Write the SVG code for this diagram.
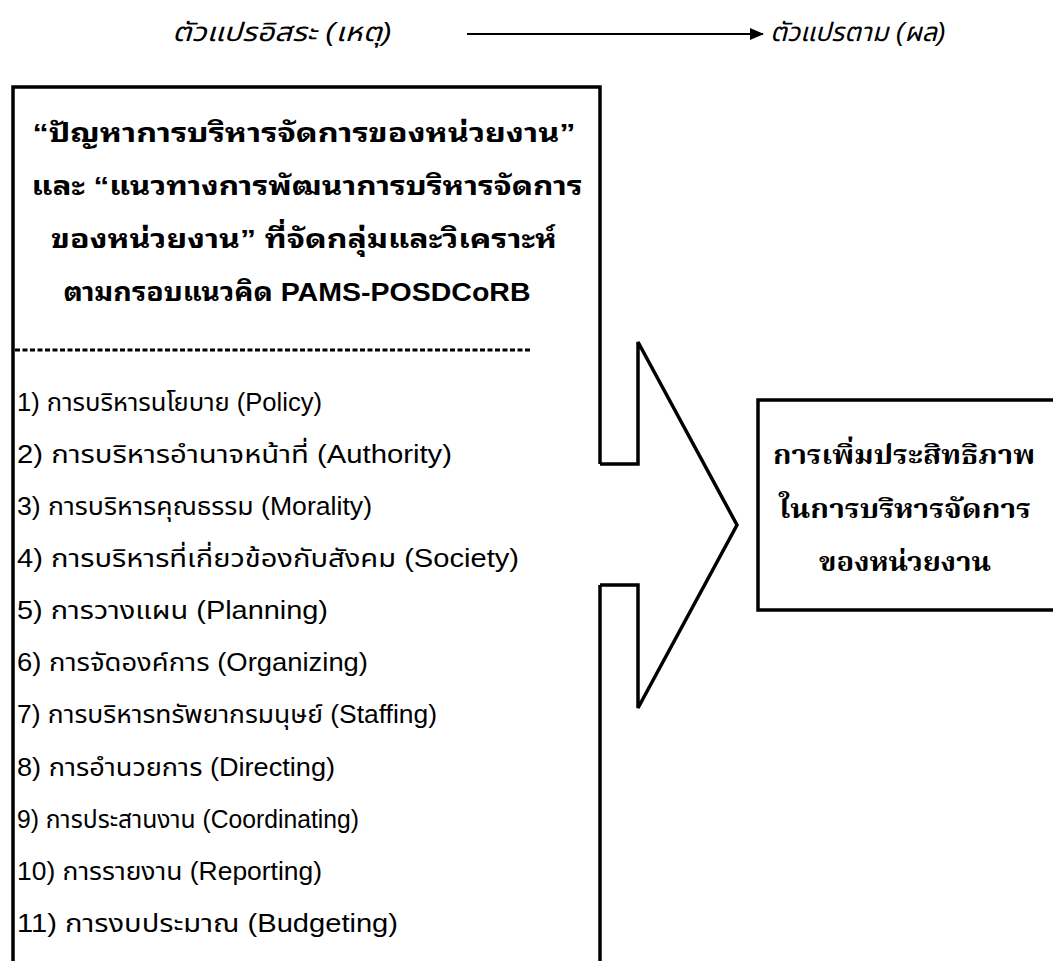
<svg xmlns="http://www.w3.org/2000/svg" width="1053" height="961" viewBox="0 0 1053 961">
<defs>
<marker id="ah" markerWidth="14" markerHeight="12" refX="13" refY="6" orient="auto" markerUnits="userSpaceOnUse">
<path d="M0,0 L14,6 L0,12 Z" fill="#000"/>
</marker>
<style>
.lbl{font-family:"Liberation Sans","Noto Sans Thai","Noto Sans Thai UI","Noto Serif Thai","DejaVu Sans",sans-serif;font-style:italic;font-size:26px;fill:#000}
.hd{font-family:"Liberation Sans","Noto Sans Thai Looped","Noto Serif Thai","Noto Sans Thai","DejaVu Sans",sans-serif;font-weight:bold;font-size:26px;fill:#000;text-anchor:middle}
.it{font-family:"Liberation Sans","Noto Sans Thai","Noto Sans Thai UI","DejaVu Sans",sans-serif;font-size:25px;fill:#000}
.rb{font-family:"Liberation Serif","Noto Serif Thai","Noto Sans Thai Looped","Noto Sans Thai",serif;font-weight:bold;font-size:27px;fill:#000;text-anchor:middle}
.box{fill:none;stroke:#000;stroke-width:3.5}
</style>
</defs>
<rect width="1053" height="961" fill="#fff"/>
<g id="label-independent">
<text class="lbl" x="172" y="41" textLength="220" lengthAdjust="spacingAndGlyphs">ตัวแปรอิสระ (เหตุ)</text>
</g>
<g id="label-dependent">
<text class="lbl" x="770" y="41" textLength="176" lengthAdjust="spacingAndGlyphs">ตัวแปรตาม (ผล)</text>
</g>
<g id="connectors">
<line x1="467" y1="34" x2="763" y2="34" stroke="#000" stroke-width="2" marker-end="url(#ah)"/>
</g>
<g id="node-left">
<path class="box" d="M13,965 L13,87 L600,87 L600,464"/>
<path class="box" d="M600,585 L600,965"/>
<text class="hd" x="304" y="142" textLength="543" lengthAdjust="spacingAndGlyphs">“ปัญหาการบริหารจัดการของหน่วยงาน”</text>
<text class="hd" x="307" y="195" textLength="551" lengthAdjust="spacingAndGlyphs">และ “แนวทางการพัฒนาการบริหารจัดการ</text>
<text class="hd" x="304" y="248" textLength="506" lengthAdjust="spacingAndGlyphs">ของหน่วยงาน” ที่จัดกลุ่มและวิเคราะห์</text>
<text class="hd" x="297" y="301" textLength="467" lengthAdjust="spacingAndGlyphs">ตามกรอบแนวคิด PAMS-POSDCoRB</text>
<line x1="15" y1="350" x2="532" y2="350" stroke="#000" stroke-width="3" stroke-dasharray="5,2.5"/>
<text class="it" x="17" y="411" textLength="305" lengthAdjust="spacingAndGlyphs">1) การบริหารนโยบาย (Policy)</text>
<text class="it" x="17" y="463" textLength="435" lengthAdjust="spacingAndGlyphs">2) การบริหารอำนาจหน้าที่ (Authority)</text>
<text class="it" x="17" y="515" textLength="355" lengthAdjust="spacingAndGlyphs">3) การบริหารคุณธรรม (Morality)</text>
<text class="it" x="17" y="567" textLength="502" lengthAdjust="spacingAndGlyphs">4) การบริหารที่เกี่ยวข้องกับสังคม (Society)</text>
<text class="it" x="17" y="619" textLength="311" lengthAdjust="spacingAndGlyphs">5) การวางแผน (Planning)</text>
<text class="it" x="17" y="671" textLength="351" lengthAdjust="spacingAndGlyphs">6) การจัดองค์การ (Organizing)</text>
<text class="it" x="17" y="723" textLength="420" lengthAdjust="spacingAndGlyphs">7) การบริหารทรัพยากรมนุษย์ (Staffing)</text>
<text class="it" x="17" y="776" textLength="318" lengthAdjust="spacingAndGlyphs">8) การอำนวยการ (Directing)</text>
<text class="it" x="17" y="828" textLength="342" lengthAdjust="spacingAndGlyphs">9) การประสานงาน (Coordinating)</text>
<text class="it" x="17" y="880" textLength="305" lengthAdjust="spacingAndGlyphs">10) การรายงาน (Reporting)</text>
<text class="it" x="17" y="932" textLength="381" lengthAdjust="spacingAndGlyphs">11) การงบประมาณ (Budgeting)</text>
</g>
<g id="big-arrow">
<path class="box" d="M600,464 L638,464 L638,342 L737,525 L638,708 L638,585 L600,585"/>
</g>
<g id="node-right">
<path class="box" d="M1056,400 L758,400 L758,610 L1056,610"/>
<text class="rb" x="904" y="464" textLength="262" lengthAdjust="spacingAndGlyphs">การเพิ่มประสิทธิภาพ</text>
<text class="rb" x="905" y="518" textLength="252" lengthAdjust="spacingAndGlyphs">ในการบริหารจัดการ</text>
<text class="rb" x="905" y="571" textLength="172" lengthAdjust="spacingAndGlyphs">ของหน่วยงาน</text>
</g>
</svg>
